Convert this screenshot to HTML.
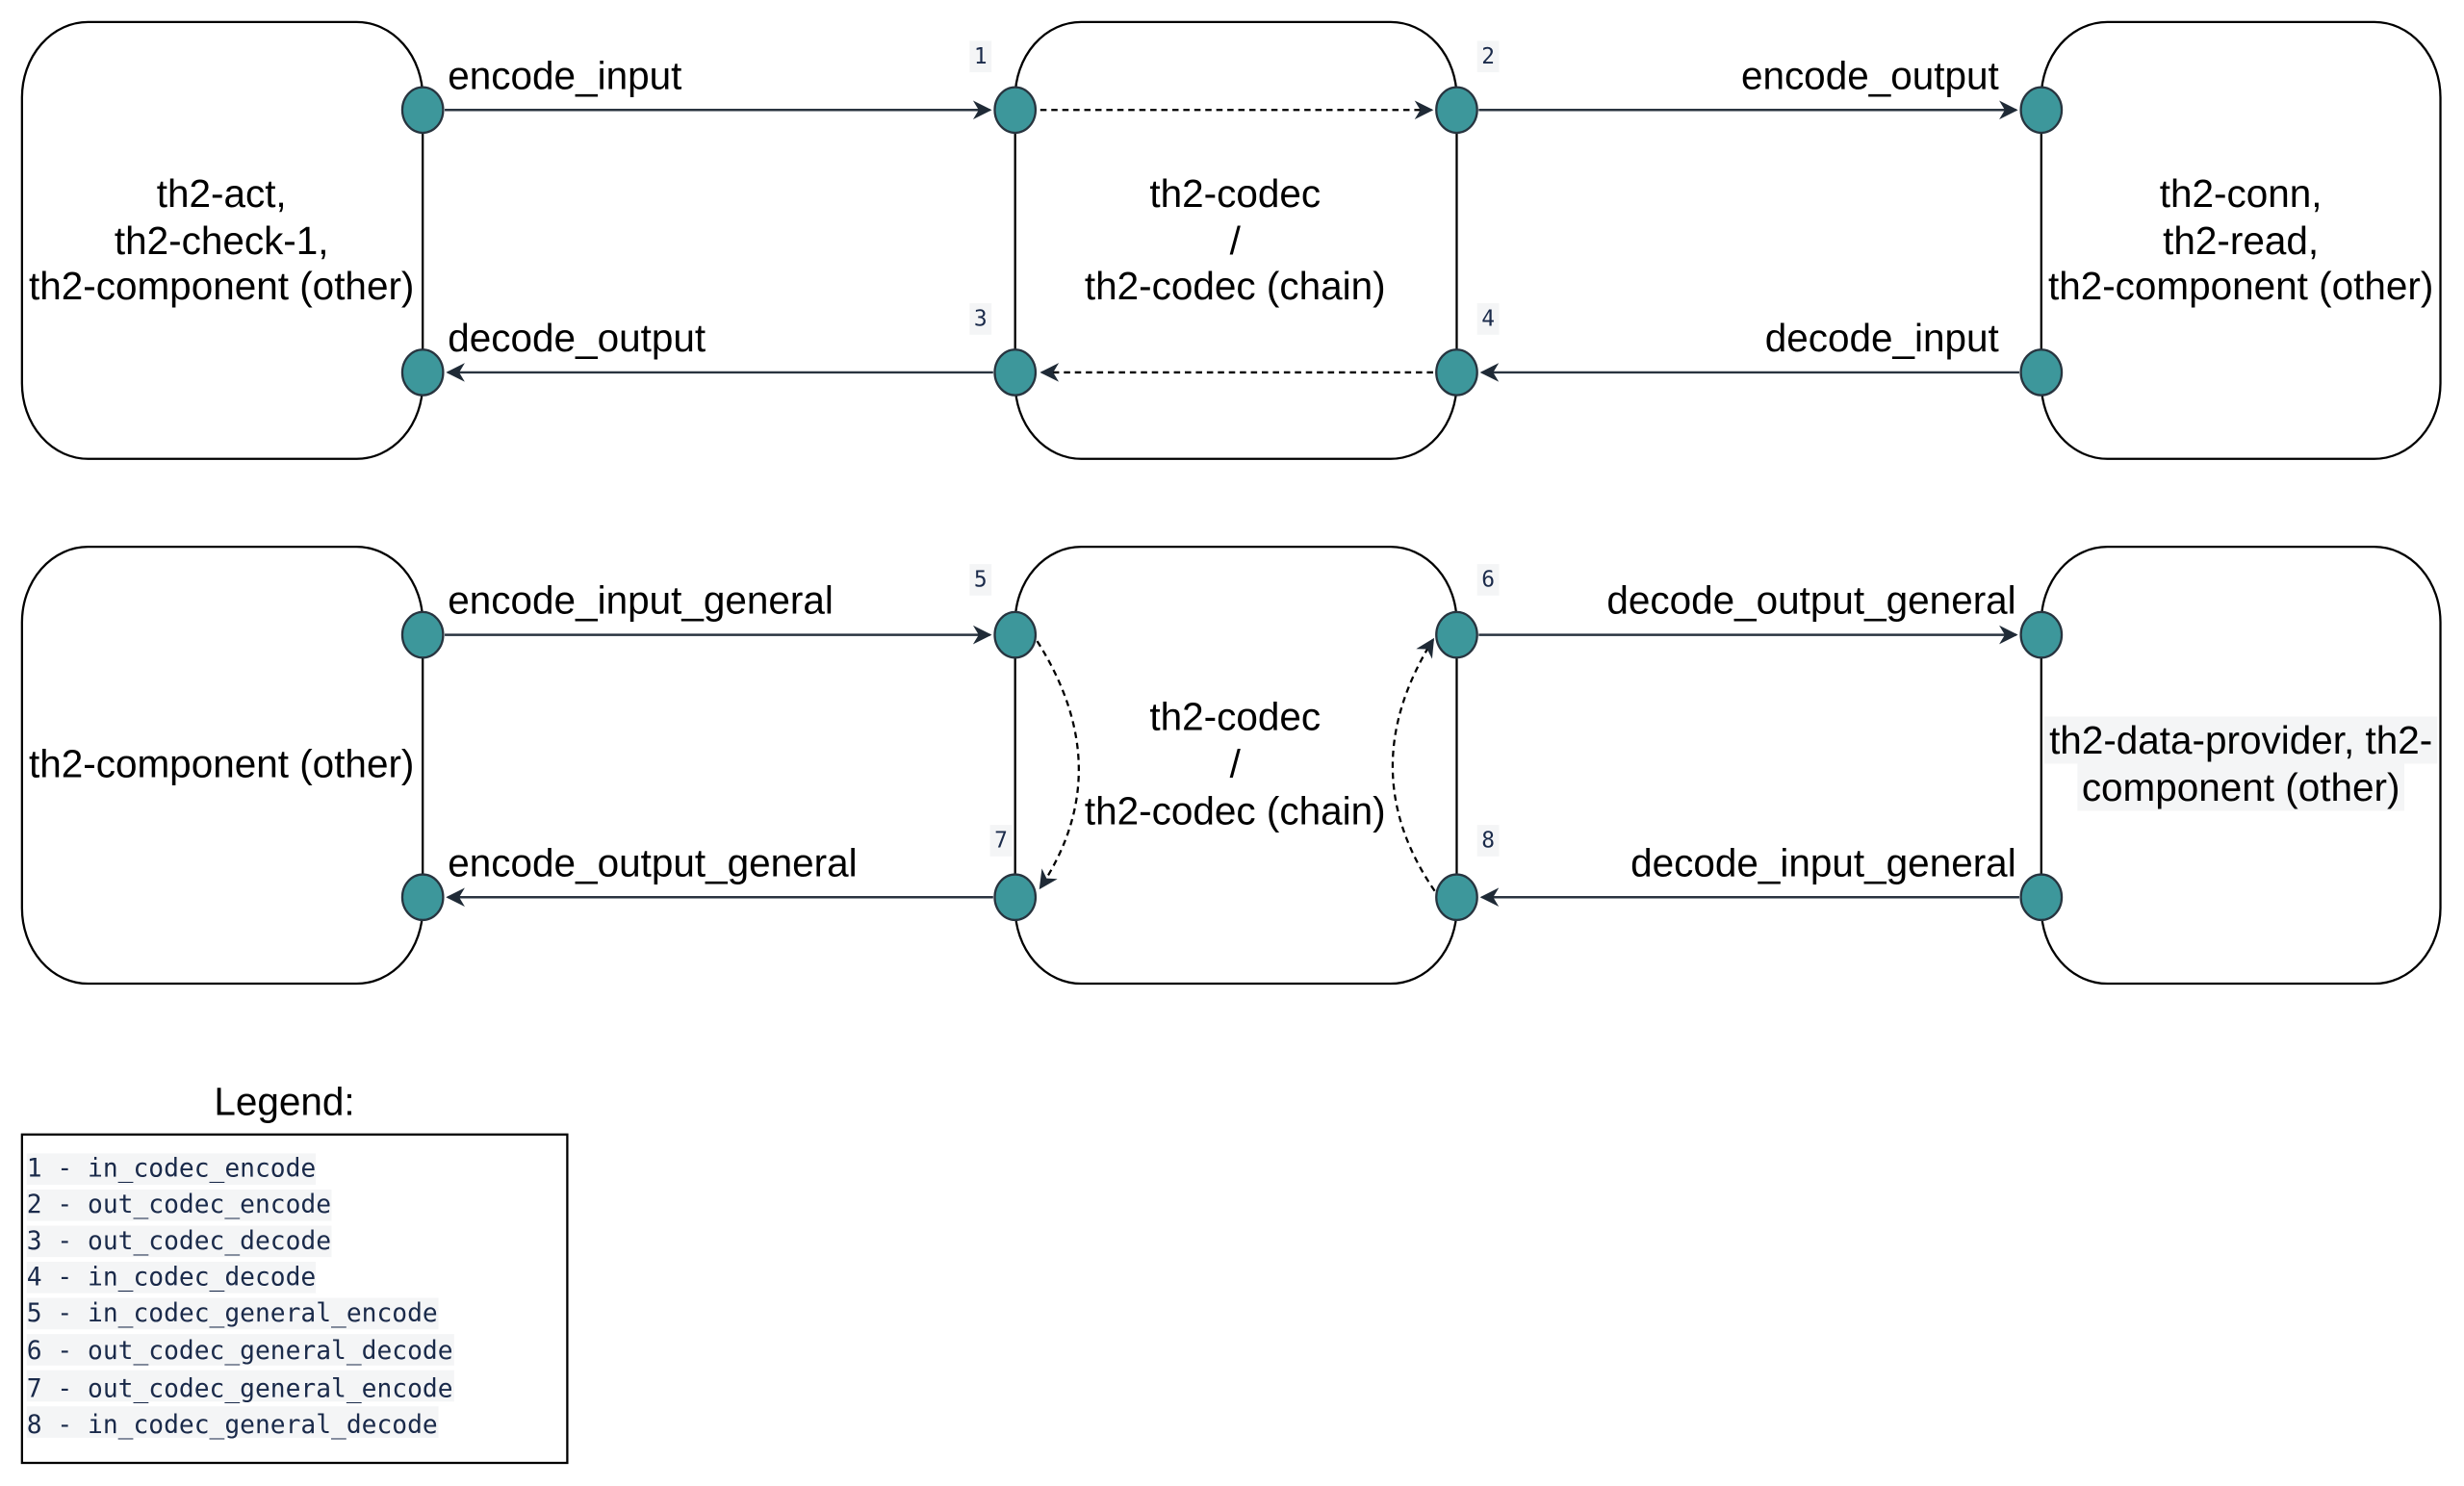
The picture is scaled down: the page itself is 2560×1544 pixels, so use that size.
<!DOCTYPE html>
<html><head><meta charset="utf-8"><style>
html,body{margin:0;padding:0;background:#fff;}
svg{display:block;}
.t{font-family:"Liberation Sans",sans-serif;font-size:24.8px;fill:#000;}
.m{font-family:"DejaVu Sans Mono","Liberation Mono",monospace;fill:#1a2a4a;}
</style></head><body>
<svg width="2560" height="1544" viewBox="0 0 1568 945.7" xmlns="http://www.w3.org/2000/svg">
<defs>
<marker id="b" viewBox="0 0 10 10" refX="9" refY="5" markerWidth="12" markerHeight="12" orient="auto" markerUnits="userSpaceOnUse"><path d="M0,0 L10,5 L0,10 L3,5 z" fill="#1f2a36"/></marker>
</defs>
<g fill="#fff" stroke="#000" stroke-width="1.4">
<rect x="14" y="14" width="255" height="278" rx="42" ry="48"/>
<rect x="646" y="14" width="281" height="278" rx="42" ry="48"/>
<rect x="1299" y="14" width="254" height="278" rx="42" ry="48"/>
<rect x="14" y="348" width="255" height="278" rx="42" ry="48"/>
<rect x="646" y="348" width="281" height="278" rx="42" ry="48"/>
<rect x="1299" y="348" width="254" height="278" rx="42" ry="48"/>
</g>
<g stroke="#2a3440" stroke-width="1.5" fill="none">
<line x1="283" y1="70" x2="630" y2="70" marker-end="url(#b)"/>
<line x1="632" y1="237" x2="285" y2="237" marker-end="url(#b)"/>
<line x1="941" y1="70" x2="1283" y2="70" marker-end="url(#b)"/>
<line x1="1285" y1="237" x2="943" y2="237" marker-end="url(#b)"/>
<line x1="283" y1="404" x2="630" y2="404" marker-end="url(#b)"/>
<line x1="632" y1="571" x2="285" y2="571" marker-end="url(#b)"/>
<line x1="941" y1="404" x2="1283" y2="404" marker-end="url(#b)"/>
<line x1="1285" y1="571" x2="943" y2="571" marker-end="url(#b)"/>
</g>
<g stroke="#000" stroke-width="1.4" fill="none" stroke-dasharray="4,3">
<line x1="662" y1="70" x2="911" y2="70" marker-end="url(#b)"/>
<line x1="912" y1="237" x2="663" y2="237" marker-end="url(#b)"/>
<path d="M660,408 Q712,490 662,565" marker-end="url(#b)"/>
<path d="M913,567 Q860,490 912,407" marker-end="url(#b)"/>
</g>
<g fill="#3d979b" stroke="#27343f" stroke-width="1.4">
<ellipse cx="269" cy="70" rx="13" ry="14.5"/><ellipse cx="646" cy="70" rx="13" ry="14.5"/><ellipse cx="927" cy="70" rx="13" ry="14.5"/><ellipse cx="1299" cy="70" rx="13" ry="14.5"/>
<ellipse cx="269" cy="237" rx="13" ry="14.5"/><ellipse cx="646" cy="237" rx="13" ry="14.5"/><ellipse cx="927" cy="237" rx="13" ry="14.5"/><ellipse cx="1299" cy="237" rx="13" ry="14.5"/>
<ellipse cx="269" cy="404" rx="13" ry="14.5"/><ellipse cx="646" cy="404" rx="13" ry="14.5"/><ellipse cx="927" cy="404" rx="13" ry="14.5"/><ellipse cx="1299" cy="404" rx="13" ry="14.5"/>
<ellipse cx="269" cy="571" rx="13" ry="14.5"/><ellipse cx="646" cy="571" rx="13" ry="14.5"/><ellipse cx="927" cy="571" rx="13" ry="14.5"/><ellipse cx="1299" cy="571" rx="13" ry="14.5"/>
</g>
<g class="t" text-anchor="middle" dominant-baseline="central">
<text x="141" y="123">th2-act,</text><text x="141" y="153">th2-check-1,</text><text x="141" y="182">th2-component (other)</text>
<text x="786" y="123">th2-codec</text><text x="786" y="153">/</text><text x="786" y="182">th2-codec (chain)</text>
<text x="1426" y="123">th2-conn,</text><text x="1426" y="153">th2-read,</text><text x="1426" y="182">th2-component (other)</text>
<text x="141" y="486">th2-component (other)</text>
<text x="786" y="456">th2-codec</text><text x="786" y="486">/</text><text x="786" y="516">th2-codec (chain)</text>
</g>
<rect x="1301" y="456" width="250" height="30" fill="#f4f5f6"/>
<rect x="1322" y="486" width="208" height="30" fill="#f4f5f6"/>
<g class="t" text-anchor="middle" dominant-baseline="central">
<text x="1426" y="471">th2-data-provider, th2-</text><text x="1426" y="501">component (other)</text>
</g>
<g class="t" dominant-baseline="central">
<text x="285" y="48">encode_input</text>
<text x="285" y="215">decode_output</text>
<text x="285" y="382">encode_input_general</text>
<text x="285" y="549">encode_output_general</text>
<text x="1272" y="48" text-anchor="end">encode_output</text>
<text x="1272" y="215" text-anchor="end">decode_input</text>
<text x="1283" y="382" text-anchor="end">decode_output_general</text>
<text x="1283" y="549" text-anchor="end">decode_input_general</text>
<text x="181" y="701" text-anchor="middle">Legend:</text>
</g>
<g class="m" font-size="14" text-anchor="middle" dominant-baseline="central">
<rect x="617" y="26" width="14" height="20" fill="#f4f5f6"/><text x="624" y="36">1</text>
<rect x="940" y="26" width="14" height="20" fill="#f4f5f6"/><text x="947" y="36">2</text>
<rect x="617" y="193" width="14" height="20" fill="#f4f5f6"/><text x="624" y="203">3</text>
<rect x="940" y="193" width="14" height="20" fill="#f4f5f6"/><text x="947" y="203">4</text>
<rect x="617" y="359" width="14" height="20" fill="#f4f5f6"/><text x="624" y="369">5</text>
<rect x="940" y="359" width="14" height="20" fill="#f4f5f6"/><text x="947" y="369">6</text>
<rect x="630" y="525" width="14" height="20" fill="#f4f5f6"/><text x="637" y="535">7</text>
<rect x="940" y="525" width="14" height="20" fill="#f4f5f6"/><text x="947" y="535">8</text>
</g>
<rect x="14" y="722" width="347" height="209" fill="#fff" stroke="#000" stroke-width="1.4"/>
<g fill="#f4f5f6">
<rect x="17" y="734" width="184" height="20"/><rect x="17" y="757" width="194" height="20"/><rect x="17" y="780" width="194" height="20"/><rect x="17" y="803" width="184" height="20"/>
<rect x="17" y="826" width="262" height="20"/><rect x="17" y="849" width="272" height="20"/><rect x="17" y="872" width="272" height="20"/><rect x="17" y="895" width="262" height="20"/>
</g>
<g class="m" font-size="16.1" dominant-baseline="central">
<text x="17" y="744">1 - in_codec_encode</text>
<text x="17" y="767">2 - out_codec_encode</text>
<text x="17" y="790">3 - out_codec_decode</text>
<text x="17" y="813">4 - in_codec_decode</text>
<text x="17" y="836">5 - in_codec_general_encode</text>
<text x="17" y="860">6 - out_codec_general_decode</text>
<text x="17" y="884">7 - out_codec_general_encode</text>
<text x="17" y="907">8 - in_codec_general_decode</text>
</g>
</svg>
</body></html>
